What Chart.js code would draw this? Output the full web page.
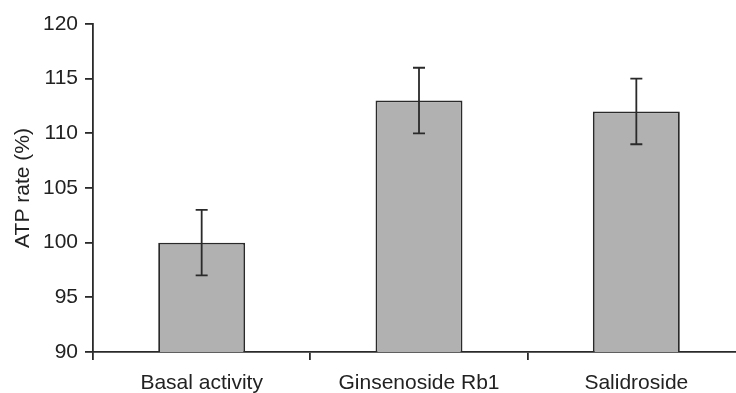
<!DOCTYPE html>
<html>
<head>
<meta charset="utf-8">
<script src="https://cdn.jsdelivr.net/npm/chart.js@4"></script>
<style>
  html, body { margin: 0; padding: 0; background: #fff; overflow: hidden; }
  #wrap { width: 746px; height: 393px; }
</style>
</head>
<body>
<div id="wrap"><canvas id="atpChart"></canvas></div>
<script>
// DATA
const categories = ['Basal activity', 'Ginsenoside Rb1', 'Salidroside'];
const atpRate = [100, 113, 112];
const atpError = [3, 3, 3];
const yTicks = [90, 95, 100, 105, 110, 115, 120];

// ERROR BARS
const errorBars = {
  id: 'errorBars',
  afterDatasetsDraw(chart) {
    const ctx = chart.ctx;
    const y = chart.scales.y;
    const meta = chart.getDatasetMeta(0);
    ctx.save();
    ctx.strokeStyle = '#2a2a2a';
    ctx.lineWidth = 1.8;
    meta.data.forEach((bar, i) => {
      const top = y.getPixelForValue(atpRate[i] + atpError[i]);
      const bot = y.getPixelForValue(atpRate[i] - atpError[i]);
      ctx.beginPath();
      ctx.moveTo(bar.x, top); ctx.lineTo(bar.x, bot);
      ctx.moveTo(bar.x - 6, top); ctx.lineTo(bar.x + 6, top);
      ctx.moveTo(bar.x - 6, bot); ctx.lineTo(bar.x + 6, bot);
      ctx.stroke();
    });
    ctx.restore();
  }
};

const font = { family: '"Liberation Sans", Arial, sans-serif', size: 21 };

new Chart(document.getElementById('atpChart'), {
  type: 'bar',
  data: {
    labels: categories,
    datasets: [{
      data: atpRate,
      backgroundColor: '#b1b1b1',
      borderColor: '#2a2a2a',
      borderWidth: 1.8,
      borderSkipped: false,
      barPercentage: 0.4,
      categoryPercentage: 1
    }]
  },
  options: {
    responsive: true,
    maintainAspectRatio: false,
    animation: false,
    layout: { padding: { top: 24, left: 0, right: 1, bottom: 0 } },
    plugins: { legend: { display: false }, tooltip: { enabled: false } },
    scales: {
      x: {
        offset: true,
        grid: { offset: true, drawOnChartArea: false, tickLength: 8, color: '#2a2a2a', lineWidth: 1.8 },
        border: { color: '#2a2a2a', width: 1.8 },
        ticks: { color: '#222', font: font, padding: 11, maxRotation: 0 },
        afterFit: s => { s.height = 41; }
      },
      y: {
        min: 90,
        max: 120,
        afterBuildTicks: s => { s.ticks = yTicks.map(v => ({ value: v })); },
        grid: { drawOnChartArea: false, tickLength: 8, color: '#2a2a2a', lineWidth: 1.8 },
        border: { color: '#2a2a2a', width: 1.8 },
        ticks: { color: '#222', font: font, padding: 7 },
        title: { display: true, text: 'ATP rate (%)', color: '#222', font: font, padding: { top: 11, bottom: 4 } },
        afterFit: s => { s.width = 93; }
      }
    }
  },
  plugins: [errorBars]
});
</script>
</body>
</html>
